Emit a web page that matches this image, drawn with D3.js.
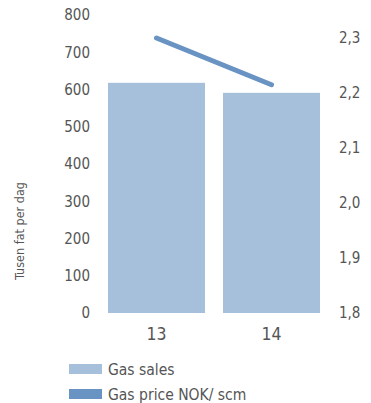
<!DOCTYPE html>
<html><head><meta charset="utf-8">
<script src="https://cdn.jsdelivr.net/npm/d3@7"></script>
<style>
body{margin:0;background:#fff;}
text{font-family:"DejaVu Sans Condensed","DejaVu Sans",sans-serif;fill:#555;}
</style></head>
<body><svg id="c" width="371" height="403"></svg>
<script>
const categories = ["13","14"];
const gasSales = [618, 591];
const gasPrice = [2.30, 2.215];
const leftTicks = [0,100,200,300,400,500,600,700,800];
const rightTicks = [1.8,1.9,2.0,2.1,2.2,2.3];
const seriesNames = ["Gas sales","Gas price NOK/ scm"];
const yTitle = "Tusen fat per dag";

const svg = d3.select("#c");
const barColor = "#a6bfda", lineColor = "#6893c2";
const x = d3.scaleBand().domain(categories).range([108, 320]).paddingInner(0.1565).paddingOuter(0);
const yL = d3.scaleLinear().domain([0,800]).range([313,15]);
const yR = d3.scaleLinear().domain([1.8,2.3]).range([313,38]);

svg.selectAll("rect.bar").data(categories).enter().append("rect")
  .attr("x", d=>x(d)).attr("width", x.bandwidth())
  .attr("y", (d,i)=>yL(gasSales[i])).attr("height", (d,i)=>yL(0)-yL(gasSales[i]))
  .attr("fill", barColor);

const line = d3.line().x((d,i)=>x(categories[i])+x.bandwidth()/2).y(d=>yR(d));
svg.append("path").datum(gasPrice).attr("d", line)
  .attr("fill","none").attr("stroke", lineColor).attr("stroke-width",5).attr("stroke-linecap","round");

const gL = svg.append("g").attr("transform","translate(90,0)")
  .call(d3.axisLeft(yL).tickValues(leftTicks).tickSize(0).tickPadding(0));
const gR = svg.append("g").attr("transform","translate(339,0)")
  .call(d3.axisRight(yR).tickValues(rightTicks).tickSize(0).tickPadding(0).tickFormat(d=>d3.format(".1f")(d).replace(".",",")));
const gX = svg.append("g").attr("transform","translate(0,328)")
  .call(d3.axisBottom(x).tickSize(0).tickPadding(0));
[gL,gR,gX].forEach(g=>{g.select(".domain").remove(); g.selectAll("text").style("font-size","15px").attr("fill","#555");});
gX.selectAll("text").attr("dy","0.71em").style("font-size","17.5px");

svg.append("text").attr("transform","translate(24,231) rotate(-90)")
  .attr("text-anchor","middle").style("font-size","12.5px").text(yTitle);

const leg = svg.selectAll("g.leg").data(seriesNames).enter().append("g")
  .attr("transform",(d,i)=>`translate(69,${364+i*25})`);
leg.append("rect").attr("width",33).attr("height",10).attr("fill",(d,i)=>i===0?barColor:lineColor);
leg.append("text").attr("x",39).attr("y",10.5).style("font-size","15.5px").text(d=>d);
</script></body></html>
